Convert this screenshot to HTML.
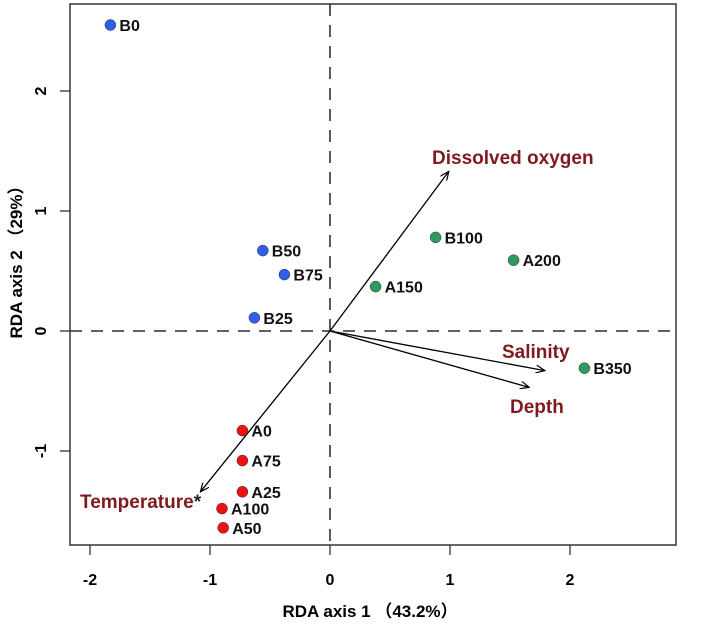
<!DOCTYPE html>
<html><head><meta charset="utf-8"><style>
html,body{margin:0;padding:0;background:#fff;}
svg{display:block;font-family:"Liberation Sans",Arial,"Noto Sans CJK SC",sans-serif;}
</style></head><body>
<svg id="chart" width="708" height="635" viewBox="0 0 708 635"></svg>
<script>
const siteNames=["B0","B50","B75","B25","A150","B100","A200","B350","A0","A75","A25","A100","A50"];
const siteX=[-1.83,-0.56,-0.38,-0.63,0.38,0.88,1.53,2.12,-0.73,-0.73,-0.73,-0.90,-0.89];
const siteY=[2.55,0.67,0.47,0.11,0.37,0.78,0.59,-0.31,-0.83,-1.08,-1.34,-1.48,-1.64];
const siteGroup=["b","b","b","b","g","g","g","g","r","r","r","r","r"];
const envNames=["Dissolved oxygen","Salinity","Depth","Temperature"];
const envX=[0.99,1.79,1.66,-1.08];
const envY=[1.33,-0.33,-0.47,-1.34];
const xTicks=[-2,-1,0,1,2];
const yTicks=[-1,0,1,2];
const NS="http://www.w3.org/2000/svg";
const svg=document.getElementById('chart');
const L=70,R=676,T=4,B=545;
const sx=v=>330+v*120, sy=v=>331-v*120;
function mk(t,a,p){const e=document.createElementNS(NS,t);for(const k in a)e.setAttribute(k,a[k]);(p||svg).appendChild(e);return e;}
const defs=mk('defs',{});
const m=mk('marker',{id:'ah',markerWidth:'10',markerHeight:'8',refX:'9',refY:'4',orient:'auto',markerUnits:'userSpaceOnUse'},defs);
mk('path',{d:'M0,0 L9,4 L0,8',fill:'none',stroke:'#000','stroke-width':'1.2'},m);
let e;
e=mk('line',{x1:L,x2:R,y1:sy(0),y2:sy(0),stroke:'#000','stroke-width':1.3,'stroke-dasharray':'12,9'});

e=mk('line',{x1:sx(0),x2:sx(0),y1:T,y2:B,stroke:'#000','stroke-width':1.3,'stroke-dasharray':'12,9'});

e=mk('rect',{x:L,y:T,width:R-L,height:B-T,fill:'none',stroke:'#333','stroke-width':1.5});

xTicks.forEach(v=>{
 e=mk('line',{x1:sx(v),x2:sx(v),y1:B,y2:B+10,stroke:'#333','stroke-width':1.3});
 
 e=mk('text',{x:sx(v),y:585,'text-anchor':'middle','font-size':16,'font-weight':'bold'});
 e.textContent=v;
});
yTicks.forEach(v=>{
 e=mk('line',{x1:L-10,x2:L,y1:sy(v),y2:sy(v),stroke:'#333','stroke-width':1.3});
 
 e=mk('text',{x:0,y:0,'text-anchor':'middle','font-size':16,'font-weight':'bold',transform:`translate(46,${sy(v)}) rotate(-90)`});
 e.textContent=v;
});
e=mk('text',{x:370,y:617,'text-anchor':'middle','font-size':17,'font-weight':'bold'});
e.textContent='RDA axis 1 （43.2%）';
e=mk('text',{x:0,y:0,'text-anchor':'middle','font-size':17,'font-weight':'bold',transform:'translate(22,258) rotate(-90)'});
e.textContent='RDA axis 2 （29%）';
envNames.forEach((n,i)=>{
 e=mk('line',{x1:sx(0),y1:sy(0),x2:sx(envX[i]),y2:sy(envY[i]),stroke:'#000','stroke-width':1.3,'marker-end':'url(#ah)'});
 
});
const lab=[[432,164,'start'],[502,358,'start'],[510,413,'start'],[80,508,'start']];
envNames.forEach((n,i)=>{
 e=mk('text',{x:lab[i][0],y:lab[i][1],'text-anchor':lab[i][2],'font-size':19,'font-weight':'bold',fill:'#7f1a1f'});
 e.textContent=n;
 if(n==='Temperature'){const s=mk('tspan',{fill:'#222'},e);s.textContent='*';}
});
const col={b:'#2f5fe8',g:'#2f9a5f',r:'#ee1111'};
siteNames.forEach((n,i)=>{
 e=mk('circle',{cx:sx(siteX[i]),cy:sy(siteY[i]),r:5.5,fill:col[siteGroup[i]],stroke:'#333','stroke-width':0.5});
 
 e=mk('text',{x:sx(siteX[i])+9,y:sy(siteY[i])+6,'font-size':16,'font-weight':'bold',fill:'#111'});
 e.textContent=n;
});
</script>
</body></html>
